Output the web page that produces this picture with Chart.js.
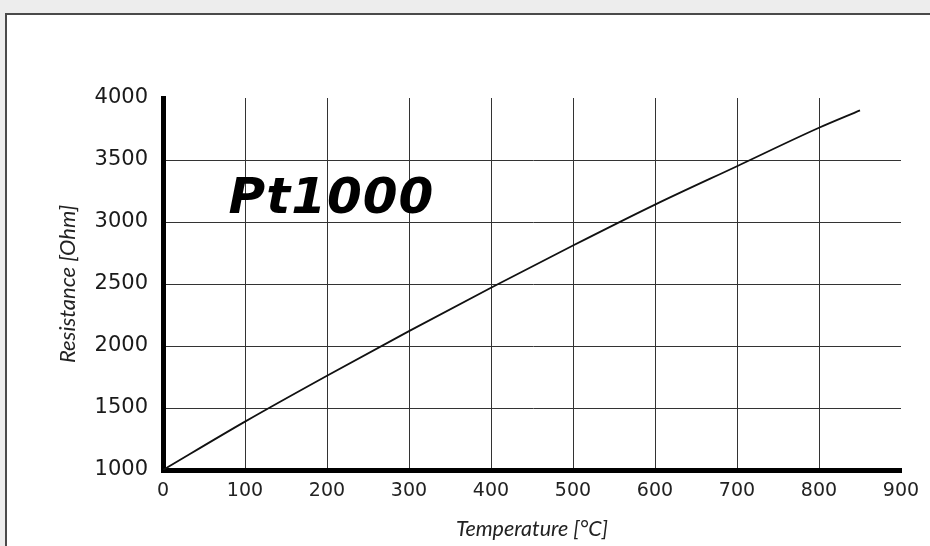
<!DOCTYPE html>
<html lang="en">
<head>
    <meta charset="UTF-8">
    <title>Pt1000 Resistance vs Temperature</title>
    <script src="https://cdn.jsdelivr.net/npm/chart.js"></script>
    <style>
        body {
            margin: 0;
            width: 930px;
            height: 546px;
            background: #ededed;
            position: relative;
            overflow: hidden;
        }

        .panel {
            position: absolute;
            left: 5px;
            top: 13px;
            width: 930px;
            height: 540px;
            background: #fff;
            border-left: 2px solid #4a4a4a;
            border-top: 2px solid #4a4a4a;
        }

        canvas {
            position: absolute;
            left: 0;
            top: 0;
        }
    </style>
</head>
<body>
    <div class="panel"></div>
    <canvas id="rtdChart" width="930" height="546"></canvas>

    <script>
        // values
        const temperatures = [0, 100, 200, 300, 400, 500, 600, 700, 800, 850];
        const resistances = [1000, 1390, 1760, 2120, 2470, 2810, 3140, 3450, 3760, 3900];
        const xTicks = [0, 100, 200, 300, 400, 500, 600, 700, 800, 900];
        const yTicks = [1000, 1500, 2000, 2500, 3000, 3500, 4000];
        const sensorLabel = 'Pt1000';

        const gridColor = '#333';

        // big "Pt1000" caption inside the plot
        const captionPlugin = {
            id: 'caption',
            beforeDatasetsDraw(chart) {
                const { ctx, scales } = chart;
                const x = scales.x.getPixelForValue(80);
                const y = scales.y.getPixelForValue(3075);
                ctx.save();
                ctx.font = 'italic bold 50px "DejaVu Sans"';
                ctx.letterSpacing = '1px';
                ctx.fillStyle = '#000';
                ctx.textBaseline = 'alphabetic';
                ctx.fillText(sensorLabel, x, y);
                ctx.restore();
            }
        };

        new Chart(document.getElementById('rtdChart'), {
            type: 'line',
            data: {
                datasets: [{
                    label: sensorLabel,
                    data: temperatures.map((t, i) => ({ x: t, y: resistances[i] })),
                    borderColor: '#111',
                    borderWidth: 1.8,
                    pointRadius: 0,
                    cubicInterpolationMode: 'monotone',
                    fill: false
                }]
            },
            options: {
                responsive: false,
                animation: false,
                layout: { padding: { top: 98, right: 29, bottom: 0, left: 0 } },
                plugins: {
                    legend: { display: false },
                    tooltip: { enabled: false }
                },
                scales: {
                    x: {
                        type: 'linear',
                        min: 0,
                        max: 900,
                        afterBuildTicks: s => { s.ticks = xTicks.map(v => ({ value: v })); },
                        afterFit: s => { s.height = 76; },
                        grid: {
                            color: c => (c.tick && c.tick.value === 900) ? 'transparent' : gridColor,
                            lineWidth: 1,
                            drawTicks: false
                        },
                        border: { color: '#000', width: 5 },
                        ticks: {
                            padding: 10,
                            color: '#222',
                            font: { family: 'DejaVu Sans', size: 19 },
                            maxRotation: 0,
                            callback: v => String(v)
                        },
                        title: {
                            display: true,
                            text: 'Temperature [°C]',
                            color: '#222',
                            font: { family: 'Lato', size: 21.5, style: 'italic' },
                            padding: { top: 0, bottom: 4 }
                        }
                    },
                    y: {
                        type: 'linear',
                        min: 1000,
                        max: 4000,
                        afterBuildTicks: s => { s.ticks = yTicks.map(v => ({ value: v })); },
                        afterFit: s => { s.width = 163; },
                        grid: {
                            color: c => (c.tick && c.tick.value === 4000) ? 'transparent' : gridColor,
                            lineWidth: 1,
                            drawTicks: false
                        },
                        border: { color: '#000', width: 5 },
                        ticks: {
                            padding: 15,
                            color: '#1a1a1a',
                            font: { family: 'DejaVu Sans', size: 21 },
                            callback: v => String(v)
                        },
                        title: {
                            display: true,
                            text: 'Resistance [Ohm]',
                            color: '#222',
                            font: { family: 'Lato', size: 22, style: 'italic' },
                            padding: { top: 55, bottom: 0 }
                        }
                    }
                }
            },
            plugins: [captionPlugin]
        });
    </script>
</body>
</html>
